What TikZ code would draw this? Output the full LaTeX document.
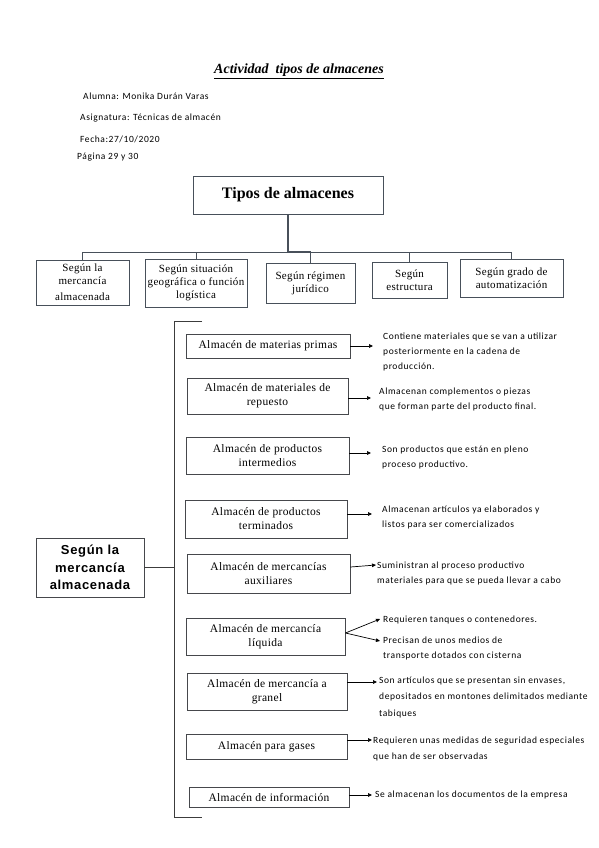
\documentclass[tikz,border=0pt]{standalone}
\usepackage{fontspec}
\setmainfont{Liberation Serif}
\newfontfamily\serifsp[LetterSpace=3]{Liberation Serif}
\newfontfamily\calib[LetterSpace=6]{Carlito}
\newfontfamily\arialb[LetterSpace=5]{Liberation Sans}
\usetikzlibrary{arrows.meta}
\definecolor{boxc}{RGB}{70,72,76}
\definecolor{topc}{RGB}{72,80,90}
\definecolor{linec}{RGB}{60,60,60}
\begin{document}
\begin{tikzpicture}[x=1pt,y=-1pt,
  box/.style={draw=boxc, line width=0.9pt, inner sep=0pt, align=center,
    font=\serifsp\fontsize{11.5}{14}\selectfont},
  topbox/.style={draw=topc, line width=1pt, inner sep=0pt, align=center,
    font=\serifsp\fontsize{11}{13}\selectfont},
  desc/.style={anchor=north west, inner sep=0pt, align=left,
    font=\calib\fontsize{9.5}{15}\selectfont},
  head/.style={anchor=west, inner sep=0pt, font=\calib\fontsize{9.5}{11}\selectfont},
  conn/.style={draw=linec, line width=0.8pt},
  arr/.style={draw=black, line width=0.7pt, -{Triangle[length=4pt,width=3.6pt]}}
]
\useasboundingbox (0,0) rectangle (599,848);
\fill[white] (0,0) rectangle (599,848);

% header
\node[inner sep=0pt, font=\fontsize{14}{16}\selectfont\bfseries\itshape] (title) at (299,71) {\underline{Actividad\ \ tipos de almacenes}};
\node[head] (h1) at (83,96) {Alumna: Monika Durán Varas};
\node[head] (h2) at (80,118) {Asignatura: Técnicas de almacén};
\node[head] (h3) at (80,139) {Fecha:27/10/2020};
\node[head] (h4) at (77,157) {Página 29 y 30};

% top tree
\node[topbox, minimum width=190pt, minimum height=38pt, font=\fontsize{16}{18}\selectfont\bfseries] (top) at (288,195) {Tipos de almacenes};
\node[topbox, minimum width=93pt, minimum height=45pt] (b1) at (82.5,282.5) {Según la\\mercancía\\[3pt]almacenada};
\node[topbox, minimum width=102pt, minimum height=48pt] (b2) at (196,283) {Según situación\\geográfica o función\\logística};
\node[topbox, minimum width=89pt, minimum height=40pt] (b3) at (310.5,283) {Según régimen\\jurídico};
\node[topbox, minimum width=75pt, minimum height=36pt] (b4) at (409.5,280) {Según\\estructura};
\node[topbox, minimum width=103pt, minimum height=38pt] (b5) at (511.5,278) {Según grado de\\automatización};
\coordinate (j) at (288,252);
\draw[draw=topc, line width=1.6pt] (top.south) -- (j);
\draw[conn, draw=topc] (b1.north) |- (j);
\draw[conn, draw=topc] (b2.north) |- (j);
\draw[conn, draw=topc] (b3.north) |- (j);
\draw[conn, draw=topc] (b4.north) |- (j);
\draw[conn, draw=topc] (b5.north) |- (j);
\draw[draw=topc, line width=1.4pt] (j) -- (b3.north |- j);

% left node and bracket
\node[draw=boxc, line width=0.9pt, inner sep=0pt, align=center, minimum width=108pt, minimum height=59pt,
  font=\arialb\fontsize{13}{17.5}\selectfont\bfseries] (seg) at (90,567.5) {Según la\\mercancía\\almacenada};
\coordinate (bt0) at (202,321);
\coordinate (bt1) at (174,321);
\coordinate (bb1) at (174,817);
\coordinate (bb0) at (202,817);
\draw[conn] (bt0) -- (bt1) -- (bb1) -- (bb0);
\draw[conn] (seg.east) -- (seg.east -| bt1);

% category boxes
\node[box, minimum width=164pt, minimum height=24pt] (m1) at (268,346) {Almacén de materias primas};
\node[box, minimum width=161pt, minimum height=36pt] (m2) at (267.5,396) {Almacén de materiales de\\repuesto};
\node[box, minimum width=163pt, minimum height=37pt] (m3) at (267.5,455.5) {Almacén de productos\\intermedios};
\node[box, minimum width=162pt, minimum height=38pt] (m4) at (266,519) {Almacén de productos\\terminados};
\node[box, minimum width=163pt, minimum height=39pt] (m5) at (268.5,573.5) {Almacén de mercancías\\auxiliares};
\node[box, minimum width=159pt, minimum height=37pt] (m6) at (265.5,636.5) {Almacén de mercancía\\líquida};
\node[box, minimum width=160pt, minimum height=37pt] (m7) at (267,691.5) {Almacén de mercancía a\\granel};
\node[box, minimum width=161pt, minimum height=25pt] (m8) at (266.5,746.5) {Almacén para gases};
\node[box, minimum width=160pt, minimum height=20pt] (m9) at (269,797) {Almacén de información};

% arrow ends
\coordinate (e1) at (373,346);
\coordinate (e2) at (371,398);
\coordinate (e3) at (371,453);
\coordinate (e4) at (372,514);
\coordinate (e5) at (376,565);
\coordinate (e6a) at (380,619);
\coordinate (e6b) at (380,641);
\coordinate (e7) at (377,682);
\coordinate (e8) at (372,740);
\coordinate (e9) at (372,795);

\draw[arr] (m1.east) -- (e1);
\draw[arr] (m2.east |- e2) -- (e2);
\draw[arr] (m3.east |- e3) -- (e3);
\draw[arr] (m4.east |- e4) -- (e4);
\draw[arr] (m5.east |- 0,567) -- (e5);
\draw[arr] (m6.east |- 0,633) -- (e6a);
\draw[arr] (m6.east |- 0,633) -- (e6b);
\draw[arr] (m7.east |- e7) -- (e7);
\draw[arr] (m8.east |- e8) -- (e8);
\draw[arr] (m9.east |- e9) -- (e9);

% descriptions
\node[desc] (t1) at (383,332.5) {Contiene materiales que se van a utilizar\\posteriormente en la cadena de\\producción.};
\node[desc] (t2) at (379,387.5) {Almacenan complementos o piezas\\que forman parte del producto final.};
\node[desc] (t3) at (382,445.5) {Son productos que están en pleno\\proceso productivo.};
\node[desc] (t4) at (382,505.5) {Almacenan artículos ya elaborados y\\listos para ser comercializados};
\node[desc] (t5) at (377,561.5) {Suministran al proceso productivo\\materiales para que se pueda llevar a cabo};
\node[desc] (t6a) at (383,615.5) {Requieren tanques o contenedores.};
\node[desc] (t6b) at (383,636.5) {Precisan de unos medios de\\transporte dotados con cisterna};
\node[desc, font=\calib\fontsize{9.5}{16.5}\selectfont] (t7) at (379,676.5) {Son artículos que se presentan sin envases,\\depositados en montones delimitados mediante\\tabiques};
\node[desc, font=\calib\fontsize{9.5}{16}\selectfont] (t8) at (373,736.5) {Requieren unas medidas de seguridad especiales\\que han de ser observadas};
\node[desc] (t9) at (375,790.5) {Se almacenan los documentos de la empresa};
\end{tikzpicture}
\end{document}
